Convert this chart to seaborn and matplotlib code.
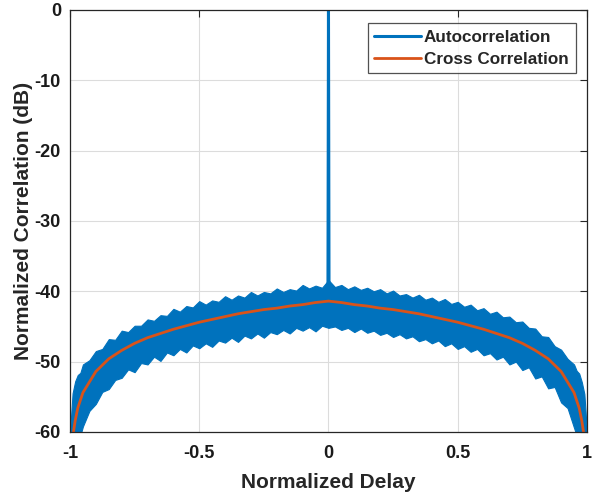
import matplotlib
matplotlib.use("Agg")
import matplotlib.pyplot as plt
import seaborn as sns

# values

# autocorrelation noise band: delay, upper edge and lower edge (dB)
band_delay = [-1.0, -0.99, -0.98, -0.97, -0.96, -0.95,
              -0.925, -0.9, -0.875, -0.85, -0.825, -0.8, -0.775, -0.75, -0.725, -0.7,
              -0.675, -0.65, -0.625, -0.6, -0.575, -0.55, -0.525, -0.5, -0.475, -0.45,
              -0.425, -0.4, -0.375, -0.35, -0.325, -0.3, -0.275, -0.25, -0.225, -0.2,
              -0.175, -0.15, -0.125, -0.1, -0.075, -0.05, -0.025,
              0.0,
              0.025, 0.05, 0.075, 0.1, 0.125, 0.15, 0.175, 0.2, 0.225, 0.25,
              0.275, 0.3, 0.325, 0.35, 0.375, 0.4, 0.425, 0.45, 0.475, 0.5,
              0.525, 0.55, 0.575, 0.6, 0.625, 0.65, 0.675, 0.7, 0.725, 0.75,
              0.775, 0.8, 0.825, 0.85, 0.875, 0.9, 0.925,
              0.95, 0.96, 0.97, 0.98, 0.99, 1.0]
auto_upper = [-60.0, -54.5, -52.8, -51.9, -51.6, -50.4,
              -49.8, -48.5, -48.2, -46.8, -46.9, -45.6, -45.8, -44.9, -44.9, -44.0,
              -44.2, -43.4, -43.5, -42.5, -42.9, -42.1, -42.3, -41.4, -41.9, -41.3,
              -41.5, -40.7, -41.2, -40.6, -40.9, -40.1, -40.6, -40.1, -40.3, -39.6,
              -40.1, -39.7, -39.9, -39.1, -39.6, -39.2, -39.5,
              -38.4,
              -39.4, -39.1, -39.7, -39.3, -39.8, -39.5, -40.0, -39.7, -40.3, -39.9,
              -40.6, -40.4, -40.9, -40.5, -41.2, -40.9, -41.5, -41.1, -41.8, -41.5,
              -42.2, -41.9, -42.7, -42.4, -43.2, -42.9, -43.7, -43.6, -44.4, -44.3,
              -45.2, -45.3, -46.4, -46.5, -47.8, -48.3, -49.6,
              -50.4, -51.3, -51.7, -52.9, -54.6, -60.0]
auto_lower = [-70.0, -70.0, -66.0, -62.0, -60.5, -59.2,
              -57.0, -56.0, -54.3, -53.9, -52.6, -52.3, -51.1, -51.5, -50.2, -50.4,
              -49.3, -49.9, -48.7, -49.1, -48.2, -48.7, -47.7, -48.1, -47.4, -47.9,
              -47.0, -47.3, -46.6, -47.2, -46.3, -46.7, -46.0, -46.6, -45.8, -46.1,
              -45.5, -46.0, -45.2, -45.6, -45.1, -45.7, -44.9,
              -45.2,
              -45.0, -45.5, -45.2, -45.8, -45.3, -45.9, -45.6, -46.2, -45.9, -46.5,
              -46.1, -46.7, -46.4, -47.1, -46.8, -47.4, -47.0, -47.8, -47.4, -48.2,
              -47.8, -48.6, -48.2, -49.1, -48.8, -49.7, -49.3, -50.4, -50.0, -51.2,
              -50.8, -52.4, -52.1, -53.8, -53.6, -55.8, -56.6,
              -59.4, -60.5, -62.0, -66.0, -70.0, -70.0]

# main lobe of the autocorrelation
spike_delay = [-0.002, 0.0, 0.002]
spike_db = [-39.0, 0.0, -39.0]

# cross correlation
delay = [-1.0, -0.99, -0.98, -0.97, -0.95, -0.9, -0.85, -0.8, -0.75, -0.7, -0.65,
         -0.6, -0.55, -0.5, -0.45, -0.4, -0.35, -0.3, -0.25, -0.2, -0.15, -0.1, -0.05,
         0.0, 0.05, 0.1, 0.15, 0.2, 0.25, 0.3, 0.35, 0.4, 0.45, 0.5, 0.55, 0.6, 0.65,
         0.7, 0.75, 0.8, 0.85, 0.9, 0.95, 0.97, 0.98, 0.99, 1.0]
cross_db = [-75.0, -60.8, -58.4, -56.6, -54.4, -51.4, -49.6, -48.4, -47.4, -46.6, -46.0,
            -45.4, -44.9, -44.4, -44.0, -43.6, -43.2, -42.9, -42.6, -42.4, -42.1, -41.9, -41.6,
            -41.4, -41.6, -41.9, -42.1, -42.4, -42.6, -42.9, -43.2, -43.6, -44.0, -44.4, -44.9,
            -45.4, -46.0, -46.6, -47.4, -48.4, -49.6, -51.4, -54.4, -56.6, -58.4, -60.8, -75.0]

xticks = [-1, -0.5, 0, 0.5, 1]
xtick_labels = ["-1", "-0.5", "0", "0.5", "1"]
yticks = [-60, -50, -40, -30, -20, -10, 0]

blue = "#0072BD"
orange = "#D95319"

sns.set_theme(style="white")
plt.rcParams["font.family"] = ["Liberation Sans", "DejaVu Sans"]
plt.rcParams["font.weight"] = "bold"
plt.rcParams["axes.unicode_minus"] = False

fig, ax = plt.subplots(figsize=(6.02, 4.92), dpi=100)
fig.subplots_adjust(left=0.1163, right=0.975, bottom=0.122, top=0.98)

ax.fill_between(band_delay, auto_lower, auto_upper, color=blue, linewidth=0.8, edgecolor=blue)
sns.lineplot(x=spike_delay, y=spike_db, ax=ax, color=blue, linewidth=2.2,
             estimator=None, sort=False, label="Autocorrelation")
sns.lineplot(x=delay, y=cross_db, ax=ax, color=orange, linewidth=2.0,
             estimator=None, sort=False, label="Cross Correlation")

ax.set_xlim(-1, 1)
ax.set_ylim(-60, 0)
ax.set_xticks(xticks)
ax.set_xticklabels(xtick_labels)
ax.set_yticks(yticks)
ax.grid(True, color="#dcdcdc", linewidth=0.8)
ax.set_axisbelow(True)
ax.tick_params(direction="in", length=5, width=0.8, color="#262626",
               top=True, right=True, labelsize=13, labelcolor="#1a1a1a")
ax.tick_params(axis="x", pad=9.5)
ax.tick_params(axis="y", pad=6.5)
for lab in ax.get_xticklabels() + ax.get_yticklabels():
    lab.set_fontweight("bold")
for sp in ax.spines.values():
    sp.set_color("#262626")
    sp.set_linewidth(0.9)

ax.set_xlabel("Normalized Delay", fontsize=15, fontweight="bold", color="#262626", labelpad=7.5)
ax.set_ylabel("Normalized Correlation (dB)", fontsize=15, fontweight="bold", color="#262626", labelpad=1)

leg = ax.legend(loc="upper right", bbox_to_anchor=(0.978, 0.969), fontsize=12.3,
                frameon=True, fancybox=False, handlelength=2.7, borderpad=0.4,
                labelspacing=0.4, handletextpad=0.2, borderaxespad=0)
leg.get_frame().set_edgecolor("#262626")
leg.get_frame().set_linewidth(0.9)
for t in leg.get_texts():
    t.set_fontweight("bold")

plt.savefig("out.png", dpi=100)
plt.close()
